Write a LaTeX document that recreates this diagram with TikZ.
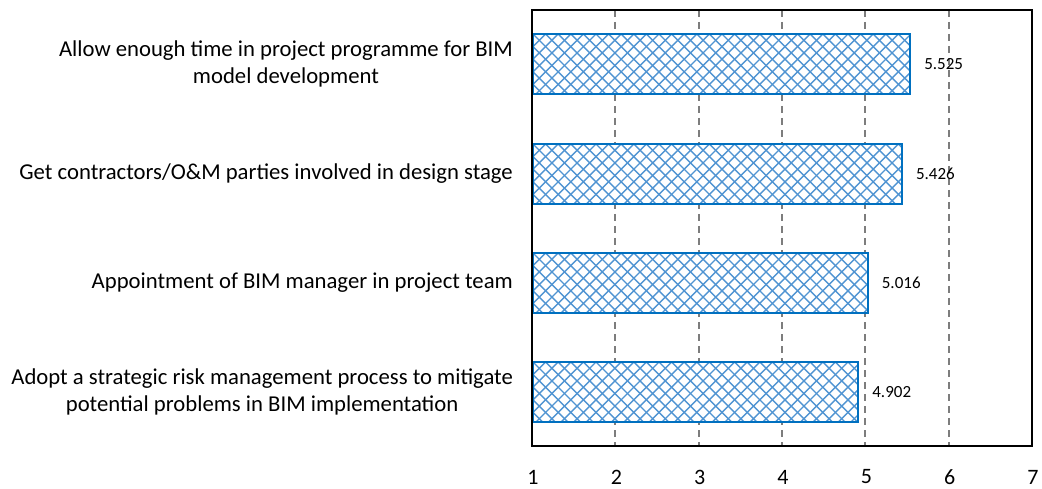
\documentclass[tikz,border=0pt]{standalone}
\usepackage{fontspec}
\setmainfont{Carlito}
\definecolor{barline}{RGB}{0,112,192}
\definecolor{hatch}{RGB}{80,148,210}
\definecolor{gridgray}{RGB}{125,125,125}
\tikzset{
  catlabel/.style={anchor=east, align=center, inner sep=0pt,
    font=\fontsize{22.7}{27}\selectfont},
  vallabel/.style={anchor=west, inner sep=0pt, font=\fontsize{17}{20}\selectfont},
  ticklabel/.style={inner sep=0pt, font=\fontsize{22}{26}\selectfont},
  gridline/.style={gridgray, line width=1.8pt, dash pattern=on 7pt off 5pt},
  hbar/.style={draw=barline, fill=white, line width=2pt, anchor=west,
    rectangle, inner sep=0pt, minimum height=60pt,
    path picture={
      \foreach \k in {-6,...,36}{
        \draw[hatch, line width=1.4pt]
          ([xshift=\k*12.6pt]path picture bounding box.north west) -- ++(70,70)
          ([xshift=\k*12.6pt]path picture bounding box.north west) -- ++(-70,70);
      }
    }},
}
\begin{document}
\begin{tikzpicture}[x=1pt, y=-1pt]
\useasboundingbox (0,0) rectangle (1042,489);

% dashed vertical gridlines
\foreach \v in {2,...,6}{
  \draw[gridline] ({532+83.333*(\v-1)},10) -- ({532+83.333*(\v-1)},446);
}

% bars (value v spans from 1 to v)
\node[hbar, minimum width={83.333*4.525}] (b1) at (532,64) {};
\node[hbar, minimum width={83.333*4.426}] (b2) at (532,174) {};
\node[hbar, minimum width={83.333*4.016}] (b3) at (532,283) {};
\node[hbar, minimum width={83.333*3.902}] (b4) at (532,392) {};

% plot frame
\draw[black, line width=2pt] (532,10) rectangle (1032,446);

% value labels
\node[vallabel] (v1) at ([xshift=13pt]b1.east) {5.525};
\node[vallabel] (v2) at ([xshift=13pt]b2.east) {5.426};
\node[vallabel] (v3) at ([xshift=13pt]b3.east) {5.016};
\node[vallabel] (v4) at ([xshift=13pt]b4.east) {4.902};

% category labels
\node[catlabel] (c1) at (513,64) {Allow enough time in project programme for BIM\\model development};
\node[catlabel] (c2) at (513,174) {Get contractors/O\&M parties involved in design stage};
\node[catlabel] (c3) at (513,283) {Appointment of BIM manager in project team};
\node[catlabel] (c4) at (513,392) {Adopt a strategic risk management process to mitigate\\potential problems in BIM implementation};

% axis tick labels
\foreach \v in {1,...,7}{
  \node[ticklabel] (t\v) at ({533+83.333*(\v-1)},477) {\v};
}
\end{tikzpicture}
\end{document}
